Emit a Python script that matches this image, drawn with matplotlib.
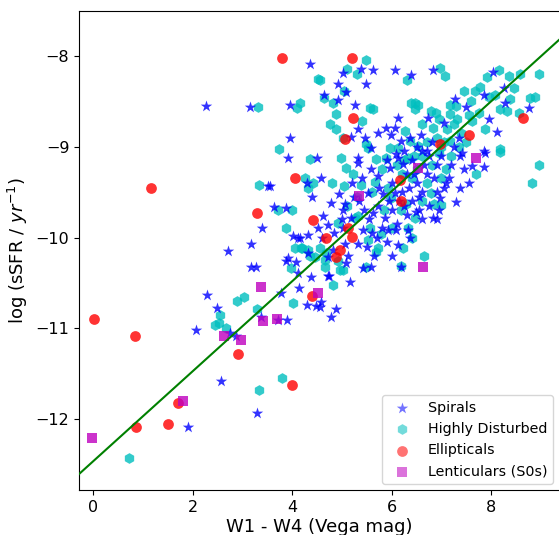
import matplotlib
matplotlib.use("Agg")
import matplotlib.pyplot as plt
import numpy as np

# ─── Data (W1-W4 colour, log sSFR) ────────────────────────────────────────────
spirals = np.array([
    [4.36, -8.09], [2.28, -8.55], [3.16, -8.56], [3.96, -8.54], [3.96, -8.90],
    [3.92, -9.13], [3.52, -9.43], [3.56, -9.43], [4.30, -9.40], [3.64, -9.66],
    [3.88, -9.68], [3.40, -9.89], [4.02, -9.98], [4.12, -10.00], [4.32, -9.97],
    [3.18, -10.07], [2.72, -10.15], [3.88, -10.26], [4.08, -10.27], [3.18, -10.33],
    [3.28, -10.33], [4.38, -10.44], [4.12, -10.39], [2.30, -10.63], [2.50, -10.78],
    [3.78, -10.61], [4.14, -10.56], [4.30, -10.74], [4.48, -10.75], [2.06, -11.02],
    [2.76, -11.05], [2.88, -11.08], [3.38, -10.88], [3.72, -10.91], [3.90, -10.91],
    [2.58, -11.58], [3.30, -11.93], [1.90, -12.09], [4.74, -10.42], [5.16, -10.49],
    [4.58, -10.71], [4.88, -10.79], [4.78, -10.88], [5.42, -10.34], [5.58, -10.33],
    [6.18, -10.32], [7.38, -9.45], [7.10, -9.40], [6.98, -9.56], [7.30, -9.61],
    [6.82, -9.79], [7.86, -9.22], [7.62, -9.21], [7.88, -9.07], [7.38, -9.10],
    [6.48, -9.72], [6.36, -10.01], [6.82, -8.16], [6.38, -8.21], [8.04, -8.18],
    [7.86, -8.43], [8.76, -8.58], [8.12, -8.84], [8.26, -8.36], [7.50, -8.56],
    [6.72, -8.69], [6.58, -8.87], [7.36, -8.91], [7.86, -9.05], [7.42, -9.07],
    [7.06, -8.74], [7.28, -8.48], [7.96, -8.70], [8.28, -8.52], [6.70, -9.05],
    [5.02, -8.19], [5.38, -8.15], [5.62, -8.16], [6.06, -8.16], [4.92, -8.31],
    [5.48, -8.31], [4.64, -8.43], [5.08, -8.40], [4.92, -8.49], [5.26, -8.54],
    [6.12, -8.69], [5.32, -8.81], [5.72, -8.85], [5.88, -8.80], [6.06, -8.80],
    [5.98, -8.87], [6.18, -8.94], [5.18, -8.89], [5.46, -8.91], [5.58, -9.01],
    [4.50, -9.13], [5.32, -9.13], [6.08, -9.08], [6.36, -8.91], [4.58, -9.34],
    [4.94, -9.52], [4.78, -9.62], [5.06, -9.63], [5.02, -9.70], [4.62, -9.76],
    [4.72, -9.86], [4.52, -9.89], [4.16, -10.01], [5.02, -9.89], [5.52, -9.51],
    [5.32, -9.18], [5.58, -9.25], [5.82, -9.52], [5.72, -9.65], [5.86, -9.78],
    [5.92, -9.92], [6.08, -9.92], [6.32, -9.92], [5.18, -9.79], [5.42, -9.92],
    [6.12, -10.08], [5.32, -10.07], [4.82, -10.14], [4.72, -10.22], [3.92, -10.23],
    [6.12, -9.13], [6.22, -9.19], [5.96, -9.23], [5.72, -9.32], [6.06, -9.51],
    [5.62, -9.73], [5.12, -10.20], [4.32, -10.17], [4.72, -10.42], [5.06, -10.07],
    [5.08, -10.28], [4.56, -10.76], [6.50, -9.40], [6.60, -9.50], [6.70, -9.30],
    [6.90, -9.20], [6.40, -9.60], [6.60, -9.80], [6.20, -9.50], [6.00, -9.70],
    [5.80, -9.90], [6.30, -9.30], [6.90, -9.50], [7.00, -9.10], [7.20, -9.20],
    [6.50, -9.00], [6.80, -8.95], [6.10, -9.85], [5.90, -10.05], [5.60, -9.95],
    [5.50, -10.10], [6.40, -9.15], [6.25, -9.65], [5.75, -9.45], [5.45, -9.70],
    [5.25, -9.55], [6.55, -9.55], [6.75, -9.65], [7.15, -9.35], [6.35, -9.45],
    [5.40, -9.35], [5.55, -9.80], [5.70, -10.00], [5.95, -9.60], [6.00, -9.40],
    [6.15, -9.60], [6.30, -9.75], [6.45, -9.30], [6.55, -9.70], [6.65, -9.20],
    [6.85, -9.35], [6.95, -9.70], [7.05, -9.45], [7.25, -9.00], [7.45, -9.25],
    [7.55, -9.40], [5.20, -9.40], [5.00, -9.80], [4.85, -9.95], [5.35, -9.60],
    [6.25, -9.05], [6.60, -9.05], [6.75, -9.10], [5.90, -9.15], [6.90, -9.80],
    [5.65, -10.20], [6.00, -10.20], [4.40, -9.55], [4.60, -10.00],
])

disturbed = np.array([
    [3.32, -8.56], [4.16, -8.52], [4.10, -8.57], [4.52, -8.26], [3.74, -9.03],
    [4.36, -9.14], [3.34, -9.42], [4.26, -9.34], [4.42, -9.40], [4.32, -9.45],
    [3.72, -9.70], [4.00, -9.70], [3.88, -9.89], [4.06, -10.11], [4.20, -10.11],
    [4.32, -10.14], [3.98, -10.34], [2.90, -10.70], [3.04, -10.66], [3.30, -10.79],
    [2.56, -10.85], [2.46, -10.96], [2.54, -10.94], [2.68, -11.00], [4.02, -10.72],
    [3.80, -11.55], [3.34, -11.68], [0.72, -12.43], [4.82, -10.52], [5.48, -10.33],
    [6.18, -10.31], [4.96, -10.36], [4.66, -10.33], [7.70, -9.30], [8.96, -9.20],
    [8.82, -9.40], [6.84, -9.63], [7.00, -9.64], [6.64, -10.20], [6.78, -9.51],
    [8.18, -9.06], [6.46, -9.79], [6.98, -8.14], [7.08, -8.22], [8.16, -8.16],
    [7.92, -8.23], [8.36, -8.22], [8.58, -8.20], [8.96, -8.20], [8.78, -8.47],
    [7.78, -8.34], [7.68, -8.39], [7.46, -8.39], [8.08, -8.43], [8.38, -8.48],
    [7.18, -8.54], [6.46, -8.52], [6.52, -8.54], [6.46, -8.59], [6.78, -8.61],
    [6.88, -8.63], [7.18, -8.64], [7.32, -8.70], [7.76, -8.63], [8.18, -8.59],
    [8.32, -8.61], [8.56, -8.63], [7.88, -8.81], [6.82, -8.80], [7.12, -8.81],
    [7.26, -8.75], [6.36, -8.94], [6.52, -8.99], [7.18, -8.94], [7.62, -8.72],
    [8.18, -9.03], [6.96, -9.07], [5.48, -8.05], [5.10, -8.15], [5.30, -8.20],
    [4.56, -8.27], [5.04, -8.39], [4.64, -8.47], [4.82, -8.52], [4.88, -8.64],
    [5.56, -8.58], [5.62, -8.59], [5.40, -8.72], [4.76, -8.75], [4.88, -8.81],
    [5.02, -8.91], [6.26, -8.83], [5.48, -8.97], [5.52, -9.02], [5.96, -9.01],
    [6.12, -9.01], [6.30, -8.27], [4.98, -9.12], [5.68, -9.14], [5.88, -9.13],
    [6.32, -9.13], [6.38, -8.52], [6.24, -9.15], [5.08, -9.24], [5.22, -9.30],
    [5.04, -9.43], [5.38, -9.42], [5.66, -9.39], [5.92, -9.45], [5.98, -9.56],
    [4.92, -9.84], [5.32, -9.76], [5.56, -9.89], [5.78, -9.96], [5.52, -10.03],
    [5.26, -9.78], [4.18, -10.11], [4.56, -10.11], [4.68, -10.17], [5.72, -10.11],
    [5.68, -10.16], [6.22, -10.11], [6.32, -9.89], [6.28, -9.63], [6.18, -9.70],
    [4.36, -10.20], [4.46, -10.22], [4.66, -10.25], [4.92, -10.26], [5.02, -10.36],
    [6.60, -9.10], [6.80, -9.20], [7.00, -9.00], [7.20, -9.10], [6.50, -9.25],
    [6.90, -8.90], [7.40, -8.85], [7.50, -8.95], [6.70, -9.40], [6.40, -9.35],
    [7.10, -9.25], [6.20, -9.30], [8.88, -8.45], [7.60, -8.50], [6.60, -8.75],
    [6.10, -9.20], [6.45, -9.10], [6.70, -8.95], [6.95, -8.70], [7.05, -8.95],
    [7.35, -9.00], [7.00, -9.35], [6.60, -9.60], [5.80, -9.25], [5.60, -9.50],
    [5.30, -9.55], [6.00, -9.90], [6.40, -10.00], [7.30, -8.55], [7.55, -8.65],
    [7.95, -8.45], [8.45, -8.35], [5.85, -9.70], [5.10, -9.65], [4.80, -9.40],
])

ellipticals = np.array([
    [0.03, -10.90], [0.85, -11.08], [1.16, -9.45], [0.87, -12.08], [1.50, -12.05],
    [1.70, -11.82], [2.92, -11.28], [3.30, -9.73], [3.80, -8.02], [4.00, -11.62],
    [4.06, -9.35], [4.42, -9.81], [4.40, -10.64], [4.68, -10.01], [4.88, -10.22],
    [4.96, -10.14], [5.12, -9.90], [5.20, -9.99], [5.06, -8.92], [5.22, -8.68],
    [5.20, -8.02], [6.16, -9.37], [6.18, -9.60], [6.98, -8.97], [7.56, -8.87],
    [8.64, -8.68],
])

lenticulars = np.array([
    [-0.02, -12.21], [1.80, -11.80], [2.64, -11.08], [2.98, -11.13], [3.38, -10.55],
    [3.42, -10.92], [3.70, -10.90], [4.52, -10.61], [5.34, -9.54], [6.52, -9.23],
    [7.70, -9.13], [6.62, -10.33],
])

# linear fit shown as the green line
fit_slope     = 0.4955
fit_intercept = -12.464

# ─── Figure ───────────────────────────────────────────────────────────────────
fig = plt.figure(figsize=(5.59, 5.35), dpi=100)
ax = fig.add_axes([79 / 559, 45 / 535, 1 - 79 / 559, (490 - 11) / 535])

ax.scatter(spirals[:, 0], spirals[:, 1], marker="*", s=75, color="b",
           alpha=0.8, label="Spirals", zorder=3, linewidths=0)
ax.scatter(disturbed[:, 0], disturbed[:, 1], marker="h", s=60, color="c",
           alpha=0.8, label="Highly Disturbed", zorder=2, linewidths=0)
ax.scatter(ellipticals[:, 0], ellipticals[:, 1], marker="o", s=60, color="r",
           alpha=0.8, label="Ellipticals", zorder=4, linewidths=0)
ax.scatter(lenticulars[:, 0], lenticulars[:, 1], marker="s", s=55, color="m",
           alpha=0.8, label="Lenticulars (S0s)", zorder=5, linewidths=0)

xlim = (-0.28, 9.36)
xs = np.array(xlim)
ax.plot(xs, fit_slope * xs + fit_intercept, color="g", lw=1.5, zorder=6)

ax.set_xlim(*xlim)
ax.set_ylim(-12.778, -7.508)
ax.set_xticks([0, 2, 4, 6, 8])
ax.set_yticks([-8, -9, -10, -11, -12])
ax.tick_params(labelsize=11.5)
ax.spines["right"].set_visible(False)

ax.set_xlabel("W1 - W4 (Vega mag)", fontsize=13, labelpad=2)
ax.set_ylabel(r"log (sSFR / $yr^{-1}$)", fontsize=13)

leg = ax.legend(loc="lower right", fontsize=10.3, borderaxespad=0.4)
for h in leg.legend_handles:
    h.set_alpha(0.55)

fig.savefig("out.png", dpi=100)
